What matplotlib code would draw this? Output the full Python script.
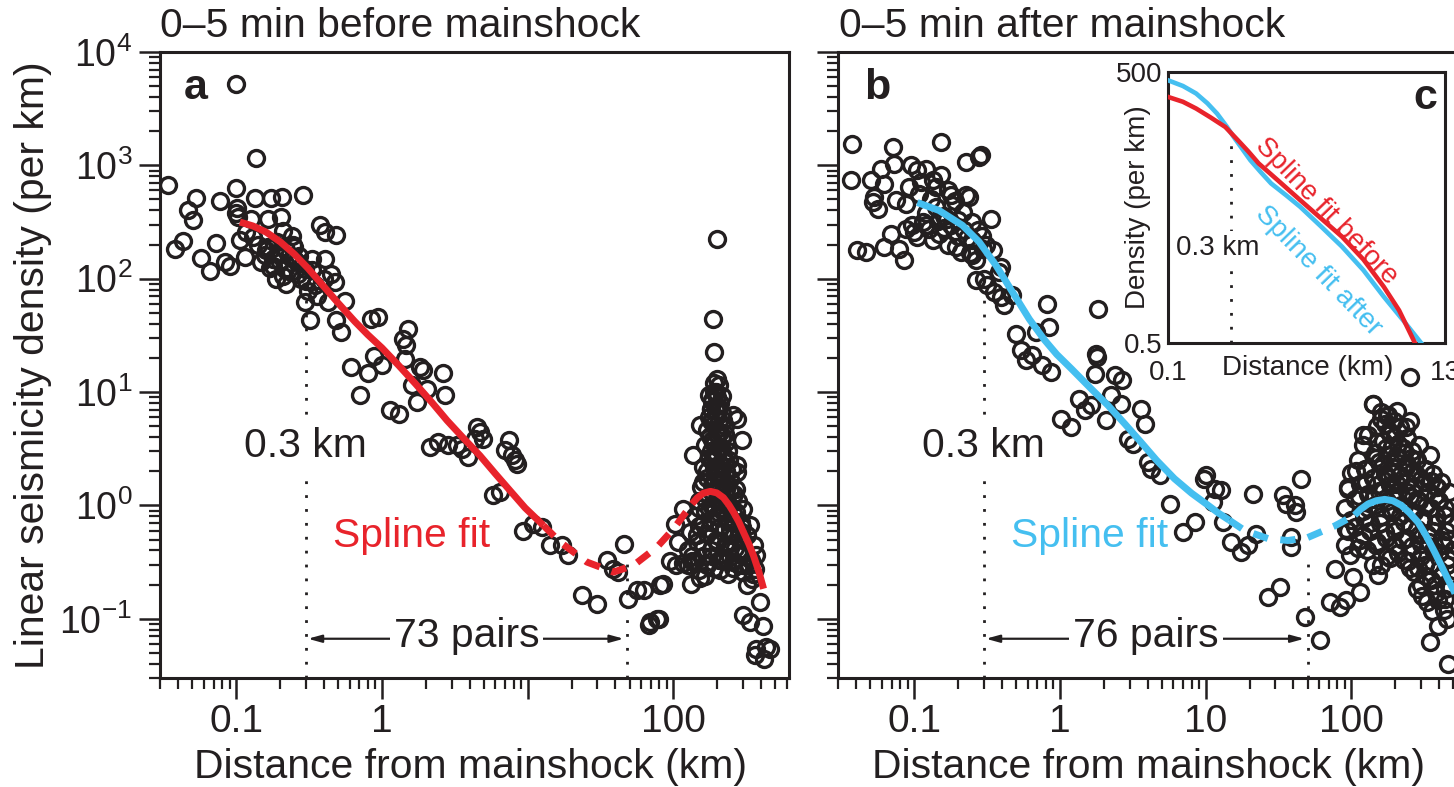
import numpy as np
import matplotlib
matplotlib.use("Agg")
import matplotlib.pyplot as plt
from matplotlib.ticker import FixedLocator, FixedFormatter, LogLocator, NullFormatter, NullLocator

plt.rcParams["font.family"] = ["Liberation Sans", "DejaVu Sans"]
plt.rcParams["mathtext.fontset"] = "custom"
plt.rcParams["mathtext.rm"] = "Liberation Sans"
plt.rcParams["mathtext.default"] = "regular"

INK = "#231f20"
RED = "#e8232b"
BLUE = "#45bff0"

# ---------------- data: pair distances (km) and linear density (per km) -------------
before_dist = [
    0.099, 0.136, 0.034, 0.0532, 0.0467, 0.0505, 0.077, 0.099, 0.101, 0.099, 0.103,
    0.134, 0.174, 0.206, 0.288, 0.0379, 0.0431, 0.0575, 0.0657, 0.073, 0.0833, 0.09,
    0.114, 0.106, 0.117, 0.127, 0.165, 0.204, 0.21, 0.374, 0.405, 0.486, 0.245, 0.141,
    0.157, 0.179, 0.194, 0.215, 0.239, 0.265, 0.295, 0.188, 0.221, 0.165, 0.149, 0.13,
    0.251, 0.405, 0.45, 0.475, 0.346, 0.295, 0.319, 0.427, 0.556, 0.486, 0.526, 0.845,
    0.94, 1.51, 1.4, 1.47, 0.2, 0.23, 0.26, 0.28, 0.17, 0.33, 0.36, 0.4, 0.31,
    0.16, 0.19, 0.22, 0.25, 0.18, 0.21, 0.27, 0.3, 0.33, 0.24,
    1.0, 1.44, 1.83, 1.92, 2.64, 1.6, 2.03, 2.71, 1.73, 1.14, 1.30, 0.614, 0.803,
    0.708, 0.883, 4.48, 4.71, 4.96, 4.36, 2.14, 2.44, 2.86, 3.26, 3.53, 3.92, 7.38,
    7.0, 7.8, 8.2, 8.4, 5.82, 6.47, 9.33, 10.9, 12.5, 14.3, 17.1, 19.0, 23.5, 29.8,
    34.9, 38.7, 41.9, 45.4, 49.1, 56.1, 62.3, 67.4, 77, 81,
    199, 188, 190, 199, 195, 185, 180, 258, 272, 295, 272, 272, 270, 302, 295, 137,
    152, 117, 103, 108, 94, 104, 116, 125, 134, 85, 132, 152, 165, 69, 79, 394, 302,
    337, 408, 370, 430, 460, 364, 420, 337, 355, 370, 364, 347, 318, 245, 233, 222, 258,
    190, 200, 185, 210, 180, 195, 215, 175, 205, 190, 225, 170, 200, 215, 185, 230,
    165, 205, 195, 220, 175, 240, 210, 160, 190, 230, 200, 170, 245, 215, 185, 155,
    230, 200, 260, 175, 150, 215, 240, 190, 165, 270, 205, 140, 230, 180, 255, 150,
    210, 285, 130, 170, 240, 195, 300, 145, 225, 265, 125, 180, 310, 160, 245, 205,
    280, 140, 330, 190, 300, 350, 235,
    175, 205, 190, 215, 200, 180, 220, 195, 210, 178, 225, 190, 212, 180, 235, 200,
    185, 225, 170, 205, 250, 190, 230, 160, 210, 185, 245, 165, 200, 230, 275, 180,
    215, 255, 150, 195, 235, 160, 290, 175, 220, 260, 145, 200, 320, 240, 160, 275,
    185, 215, 135, 300, 255, 170, 210, 340, 150,
]
before_density = [
    5200, 1160, 667, 515, 402, 328, 485, 632, 420, 378, 350,
    515, 515, 526, 552, 184, 214, 153, 116, 207, 141, 129,
    156, 218, 258, 339, 339, 351, 262, 296, 258, 242, 197, 197,
    161, 150, 167, 123, 115, 111, 123, 100, 90.6, 190, 141, 233,
    190, 150, 111, 93.5, 87.5, 62, 43, 62, 64, 43, 33.9, 44.5,
    46, 36, 29.5, 25.8, 140, 160, 140, 100, 125, 120, 70, 100, 78,
    180, 210, 180, 150, 130, 105, 160, 95, 150, 240,
    17.2, 19.7, 16.6, 15.5, 14.8, 11.5, 10.7, 9.35, 8.16, 6.89, 6.44, 16.5, 14.6,
    9.35, 20.6, 4.91, 4.43, 3.88, 3.88, 3.27, 3.62, 3.39, 3.39, 3.17, 2.67, 3.75,
    3.06, 2.76, 2.49, 2.33, 1.23, 1.31, 0.60, 0.69, 0.644, 0.443, 0.443, 0.362, 0.161, 0.136,
    0.327, 0.276, 0.258, 0.459, 0.15, 0.178, 0.178, 0.0873, 0.1, 0.197,
    226, 44.4, 22.6, 13.1, 10, 8.45, 7.13, 6.23, 5.82, 3.75, 2.25, 1.97, 1.4, 0.935, 0.644, 2.76,
    5.08, 0.935, 0.69, 0.474, 0.32, 0.3, 0.31, 0.3, 0.32, 0.204, 0.204, 0.227, 0.24, 0.093, 0.1, 0.14, 0.107,
    0.093, 0.087, 0.054, 0.056, 0.054, 0.048, 0.044, 0.667, 0.443, 0.362, 0.276, 0.225, 0.197, 0.625, 0.443, 0.34, 0.314,
    10, 9, 8.4, 8, 7.1, 6.8, 6.5, 6, 5.6, 5.2, 5, 4.6, 4.3, 4, 3.8, 3.6,
    3.4, 3.2, 2.9, 2.8, 2.6, 2.5, 2.3, 2.2, 2.1, 2.0, 1.85, 1.75, 1.7, 1.6, 1.5, 1.45,
    1.4, 1.3, 1.25, 1.2, 1.1, 1.1, 1.0, 0.98, 0.9, 0.88, 0.85, 0.8, 0.78, 0.72, 0.7, 0.66,
    0.64, 0.6, 0.58, 0.56, 0.55, 0.5, 0.5, 0.48, 0.45, 0.42, 0.4, 0.4, 0.38, 0.36, 0.35, 0.33,
    0.3, 0.32, 0.3, 0.28, 0.26, 0.25, 0.25,
    9.5, 11.5, 12, 9.2, 7.5, 5.5, 5.7, 4.7, 4.4, 4.1, 4.3, 3.5, 3.3, 3.0, 3.0, 2.7,
    2.45, 2.4, 2.0, 1.95, 2.1, 1.65, 1.55, 1.6, 1.4, 1.3, 1.35, 1.15, 1.15, 1.2, 1.1, 1.0,
    0.95, 0.85, 0.95, 0.8, 0.72, 0.7, 0.72, 0.62, 0.58, 0.55, 0.55, 0.47, 0.55, 0.42, 0.42, 0.38,
    0.36, 0.33, 0.36, 0.3, 0.28, 0.3, 0.27, 0.33, 0.27,
]

after_dist = [
    0.0377, 0.071, 0.152, 0.226, 0.287, 0.28, 0.0368, 0.059, 0.073, 0.0504, 0.0622,
    0.053, 0.052, 0.056, 0.0748, 0.095, 0.105, 0.12, 0.0924, 0.111, 0.134, 0.152,
    0.141, 0.0877, 0.108, 0.178, 0.226, 0.238, 0.183, 0.215, 0.251, 0.272, 0.336,
    0.097, 0.114, 0.127, 0.148, 0.105, 0.0877, 0.169, 0.0692, 0.0622, 0.0789, 0.0854,
    0.0408, 0.0466, 0.193, 0.208, 0.251, 0.265, 0.295, 0.347, 0.265, 0.302, 0.318,
    0.355, 0.392, 0.414, 0.383, 0.472, 0.392, 0.499, 0.539, 0.583, 0.647, 0.757,
    0.866, 0.683, 0.82, 0.843, 0.1, 0.12, 0.135, 0.16, 0.145, 0.2, 0.17, 0.23,
    0.12, 0.14, 0.16, 0.18, 0.2, 0.22, 0.25, 0.13, 0.17, 0.19, 0.29, 0.31, 0.24,
    1.82, 1.78, 1.8, 1.73, 2.38, 2.66, 1.36, 1.64, 1.48, 2.25, 2.64, 3.62, 2.08, 3.81,
    1.02, 1.19, 2.93, 3.17, 4.02, 4.24, 4.83, 5.66, 6.99, 8.4, 9.8, 10.1, 11.5, 12.8,
    11.2, 13.2, 15, 17.5, 19.5, 22.2, 21.1, 26.7, 32.1, 33.9, 35.7, 40.7, 45.3, 41.9,
    38.7, 38.7, 47.7,
    251, 60.5, 76.7, 102.6, 114, 71, 83, 92.3, 92.3, 90, 97, 94.6, 123, 120, 141, 152,
    178, 238, 318, 383, 393, 436, 460, 436, 282, 305, 357, 393, 344, 460,
    140, 175, 160, 195, 150, 215, 180, 130, 200, 240, 165, 120, 190, 225, 260, 145,
    175, 210, 110, 280, 155, 240, 190, 125, 320, 265, 100, 170, 215, 140, 300, 350,
    240, 115, 185, 95, 270, 380, 155, 210, 330, 130, 250, 105, 175, 290, 400, 145,
    220, 90, 350, 120, 190, 260, 430, 160, 310, 100, 230, 135, 380, 200, 280, 95,
    170, 330, 120, 240, 420, 150, 300, 200, 110, 360, 260, 175, 460, 230, 320, 140,
    400, 270, 350, 300, 250, 380, 440, 330,
    108, 126, 147, 172, 201, 235, 275, 321, 375, 440,
    112, 130, 150, 178, 205, 240, 280, 325, 380, 445,
    105, 122, 140, 165, 195, 228, 268, 310, 365, 430,
    115, 135, 158, 185, 215, 250, 290, 340, 400, 450,
    128, 148, 172, 198, 225, 262, 300, 345, 410, 470,
    160, 185, 210, 245, 285, 325, 375, 430, 395, 455,
    165, 190, 150, 210, 230, 255, 185, 170, 205, 160,
    250, 290, 345, 360, 410, 470, 480, 470, 490, 500,
]
after_density = [
    1556, 1453, 1610, 1072, 1227, 1180, 738, 937, 1037, 738, 691,
    526, 475, 415, 492, 1000, 905, 937, 645, 714, 738, 818,
    645, 460, 564, 545, 545, 526, 444, 388, 316, 267, 339,
    296, 316, 277, 250, 233, 277, 339, 250, 190, 184, 145,
    178, 172, 190, 172, 161, 145, 184, 178, 96.8, 100, 87.5,
    76.3, 69, 58.2, 115, 71.3, 127, 32.8, 23.3, 19.1, 21.1, 17.2,
    15.0, 33.9, 60.3, 37.5, 260, 300, 220, 280, 320, 240, 200, 230,
    380, 430, 360, 300, 330, 270, 220, 500, 600, 480, 240, 200, 170,
    54.5, 21.8, 20.4, 14.5, 14.0, 12.7, 8.75, 7.63, 6.89, 9.35, 7.9, 7.13, 5.63, 5.26,
    5.82, 4.91, 3.88, 3.5, 2.41, 2.11, 1.84, 1.03, 0.58, 0.713, 1.72, 1.84, 1.4, 1.36,
    1.07, 0.713, 0.474, 0.387, 0.443, 0.562, 1.27, 0.155, 0.19, 1.23, 1.03, 1.0, 1.72, 0.873,
    0.525, 0.428, 0.103,
    13.6, 0.0644, 0.276, 0.233, 0.172, 0.14, 0.127, 0.145, 0.62, 0.443, 0.362, 1.4, 2.11, 4.15, 7.9, 0.241,
    6.23, 4.91, 2.11, 1.45, 1.11, 0.816, 0.339, 0.184, 0.184, 0.16, 0.118, 0.087, 0.062, 0.04,
    7.9, 6.2, 5.8, 5.5, 5.0, 4.9, 4.5, 4.2, 4.0, 3.9, 3.7, 3.4, 3.3, 3.2, 3.0, 2.9,
    2.8, 2.6, 2.5, 2.5, 2.4, 2.3, 2.2, 2.1, 2.1, 2.0, 1.95, 1.9, 1.85, 1.75, 1.7, 1.65,
    1.6, 1.55, 1.5, 1.45, 1.45, 1.45, 1.35, 1.3, 1.3, 1.25, 1.2, 1.15, 1.1, 1.1, 1.1, 1.0,
    1.0, 0.95, 0.95, 0.9, 0.88, 0.85, 0.82, 0.8, 0.78, 0.75, 0.72, 0.7, 0.7, 0.66, 0.62, 0.6,
    0.58, 0.56, 0.55, 0.52, 0.5, 0.48, 0.46, 0.44, 0.42, 0.4, 0.38, 0.36, 0.34, 0.33, 0.3, 0.3,
    0.27, 0.26, 0.22, 0.2, 0.28, 0.17, 0.15, 0.14,
    2.0, 1.6, 2.6, 3.2, 2.7, 2.2, 1.9, 1.6, 1.2, 0.95,
    1.2, 0.95, 1.5, 1.75, 1.55, 1.3, 1.15, 0.98, 0.8, 0.6,
    0.65, 0.78, 1.15, 1.35, 1.2, 0.98, 0.88, 0.72, 0.6, 0.45,
    0.5, 0.6, 0.7, 0.92, 0.8, 0.66, 0.55, 0.48, 0.38, 0.3,
    0.4, 0.45, 0.52, 0.6, 0.5, 0.44, 0.36, 0.3, 0.24, 0.2,
    0.3, 0.34, 0.38, 0.32, 0.28, 0.24, 0.2, 0.12, 0.145, 0.1,
    2.3, 1.95, 3.6, 3.5, 2.9, 2.6, 4.3, 5.2, 6.8, 6.6,
    5.6, 3.4, 2.8, 1.9, 1.6, 1.3, 0.7, 0.5, 0.25, 0.4,
]

# spline fits: near-field (solid), poorly constrained gap (dashed), far-field (solid)
fit_before_near_x = [0.106, 0.13, 0.16, 0.2, 0.25, 0.31, 0.4, 0.5, 0.65, 0.8, 1.0, 1.3, 1.7,
                     2.2, 2.8, 3.6, 4.7, 6.0, 7.6, 9.6, 12.8]
fit_before_near_y = [316, 292, 258, 212, 165, 124, 85, 61, 42, 32, 24.5, 17.2, 11.8,
                     8.1, 5.6, 3.95, 2.75, 1.9, 1.34, 0.95, 0.666]
fit_before_gap_x = [12.8, 16.7, 25.5, 38.7, 53, 77, 100, 134]
fit_before_gap_y = [0.666, 0.474, 0.316, 0.258, 0.295, 0.428, 0.62, 1.03]
fit_before_far_x = [134, 145, 160, 179, 198, 220, 240, 258, 280, 302, 328, 354, 385, 415]
fit_before_far_y = [1.03, 1.16, 1.28, 1.33, 1.29, 1.17, 1.01, 0.87, 0.72, 0.58, 0.46, 0.36, 0.26, 0.184]

fit_after_near_x = [0.105, 0.148, 0.214, 0.279, 0.364, 0.473, 0.616, 0.78, 0.95, 1.2, 1.6, 2.14,
                    2.8, 3.6, 4.6, 6.1, 8.0, 10.4, 12.3, 14.5]
fit_after_near_y = [470, 400, 296, 211, 131, 76, 44, 29, 21.5, 16, 11, 7.6,
                    5.2, 3.6, 2.5, 1.72, 1.28, 1.0, 0.85, 0.74]
fit_after_gap_x = [14.5, 18.5, 26.7, 36.6, 50, 77, 105]
fit_after_gap_y = [0.74, 0.6, 0.51, 0.49, 0.52, 0.66, 0.82]
fit_after_far_x = [105, 115, 130, 148, 169, 192, 220, 250, 286, 325, 371, 410, 457, 500, 560]
fit_after_far_y = [0.82, 0.92, 1.03, 1.1, 1.13, 1.1, 1.0, 0.86, 0.71, 0.54, 0.39, 0.3, 0.225, 0.18, 0.13]

# comparison of the two near-field fits, 0.1-13 km
cmp_before_x = [0.1, 0.13, 0.164, 0.21, 0.274, 0.341, 0.41, 0.492, 0.7, 1.02, 1.5, 2.13,
                3.1, 4.43, 5.8, 7.67]
cmp_before_y = [265, 234, 197, 158, 123, 88, 66, 48.6, 31, 19.1, 11.7, 7.5,
                4.2, 2.1, 1.15, 0.5]
cmp_after_x = [0.1, 0.13, 0.164, 0.2, 0.237, 0.28, 0.317, 0.37, 0.425, 0.51, 0.612, 0.8,
               1.02, 1.5, 2.13, 3.1, 4.43, 6.2, 8.55]
cmp_after_y = [405, 350, 289, 225, 173, 125, 95.7, 70, 52.8, 39, 29.2, 21.5,
               16.1, 9.5, 5.82, 3.2, 1.63, 0.9, 0.5]

x_ticks = [0.1, 1, 10, 100]
x_labels_a = ["0.1", "1", "", "100"]
x_labels_b = ["0.1", "1", "10", "100"]
y_ticks = [0.1, 1, 10, 100, 1000, 10000]
y_labels = [r"$10^{-1}$", r"$10^{0}$", r"$10^{1}$", r"$10^{2}$", r"$10^{3}$", r"$10^{4}$"]

# ------------------------------------------------------------------------------------
W, H = 1454, 787
BIG = 29.4
fig = plt.figure(figsize=(W / 100, H / 100), dpi=100)
fig.patch.set_facecolor("white")


def box(l, t, r, b):
    return [l / W, 1 - b / H, (r - l) / W, (b - t) / H]


ax_a = fig.add_axes(box(160, 52, 789, 678))
ax_b = fig.add_axes(box(838, 52, 1467, 678))
ax_c = fig.add_axes(box(1168, 72, 1445, 343))
ax_c.set_zorder(5)


def style_main(ax, xlabels, ylabels):
    ax.set_xscale("log")
    ax.set_yscale("log")
    ax.set_xlim(0.03, 620)
    ax.set_ylim(0.03, 1e4)
    for s in ax.spines.values():
        s.set_linewidth(2.2)
        s.set_color(INK)
    ax.xaxis.set_major_locator(FixedLocator(x_ticks))
    ax.xaxis.set_major_formatter(FixedFormatter(xlabels))
    ax.yaxis.set_major_locator(FixedLocator(y_ticks))
    ax.yaxis.set_major_formatter(FixedFormatter(ylabels))
    ax.xaxis.set_minor_locator(LogLocator(base=10, subs=np.arange(2, 10), numticks=20))
    ax.yaxis.set_minor_locator(LogLocator(base=10, subs=np.arange(2, 10), numticks=20))
    ax.xaxis.set_minor_formatter(NullFormatter())
    ax.yaxis.set_minor_formatter(NullFormatter())
    ax.tick_params(which="major", direction="out", length=15, width=1.8, color=INK,
                   labelcolor=INK, top=False, right=False)
    ax.tick_params(which="minor", direction="out", length=8, width=1.6, color=INK,
                   top=False, right=False)
    ax.tick_params(axis="x", which="major", pad=4, labelsize=28)
    ax.tick_params(axis="y", which="major", pad=5, labelsize=27)
    ax.set_xlabel("Distance from mainshock (km)", fontsize=BIG, color=INK)
    ax.xaxis.label.set_va("center")
    ax.xaxis.set_label_coords(0.494, -0.142)


def draw_panel(ax, xs, ys, near, gap, far, color, pairs_text, right_edge):
    ax.plot(xs, ys, "o", mfc="none", mec=INK, ms=11.5, mew=2.4, zorder=3)
    ax.plot(near[0], near[1], "-", color=color, lw=5, solid_capstyle="butt",
            solid_joinstyle="round", zorder=4)
    ax.plot(gap[0], gap[1], color=color, lw=5, ls=(0, (2.2, 1.8)), zorder=4)
    ax.plot(far[0], far[1], "-", color=color, lw=5, solid_capstyle="butt",
            solid_joinstyle="round", zorder=4)
    dot = (0, (1, 4))
    ax.plot([0.3, 0.3], [0.03, 70], color=INK, lw=2, ls=dot, zorder=2)
    ax.plot([right_edge, right_edge], [0.03, 0.35], color=INK, lw=2, ls=dot, zorder=2)
    ax.text(0.3, 2.65, "0.3 km", ha="center", va="baseline", fontsize=BIG, color=INK,
            zorder=5, bbox=dict(fc="white", ec="none", pad=4))
    ax.text(0.46, 0.426, "Spline fit", ha="left", va="baseline", fontsize=BIG, color=color, zorder=5)
    ax.annotate("", xy=(0.31, 0.0666), xytext=(right_edge * 0.95, 0.0666),
                arrowprops=dict(arrowstyle="<|-|>,head_length=0.8,head_width=0.22",
                                color=INK, lw=1.6, shrinkA=0, shrinkB=0), zorder=2)
    ax.text(np.sqrt(0.3 * right_edge), 0.0558, pairs_text, ha="center", va="baseline",
            fontsize=BIG, color=INK, zorder=5, bbox=dict(fc="white", ec="none", pad=3))


style_main(ax_a, x_labels_a, y_labels)
style_main(ax_b, x_labels_b, [""] * len(y_ticks))
ax_a.set_ylabel("Linear seismicity density (per km)", fontsize=BIG, color=INK)
ax_a.yaxis.label.set_va("center")
ax_a.yaxis.set_label_coords(-0.202, 0.5)

draw_panel(ax_a, before_dist, before_density,
           (fit_before_near_x, fit_before_near_y), (fit_before_gap_x, fit_before_gap_y),
           (fit_before_far_x, fit_before_far_y), RED, "73 pairs", 48)
draw_panel(ax_b, after_dist, after_density,
           (fit_after_near_x, fit_after_near_y), (fit_after_gap_x, fit_after_gap_y),
           (fit_after_far_x, fit_after_far_y), BLUE, "76 pairs", 50)

ax_a.text(0.056, 0.9425, "a", transform=ax_a.transAxes, fontsize=31, fontweight="bold",
          ha="center", va="center", color=INK)
ax_b.text(0.062, 0.9425, "b", transform=ax_b.transAxes, fontsize=31, fontweight="bold",
          ha="center", va="center", color=INK)

fig.text(160 / W, 1 - 37 / H, "0–5 min before mainshock", fontsize=BIG, color=INK,
         ha="left", va="baseline")
fig.text(839 / W, 1 - 37 / H, "0–5 min after mainshock", fontsize=BIG, color=INK,
         ha="left", va="baseline")

# ---------------- inset c ----------------
ax_c.set_facecolor("white")
ax_c.set_xscale("log")
ax_c.set_yscale("log")
ax_c.set_xlim(0.1, 13)
ax_c.set_ylim(0.5, 500)
for s in ax_c.spines.values():
    s.set_linewidth(2.2)
    s.set_color(INK)
ax_c.xaxis.set_major_locator(FixedLocator([0.1, 13]))
ax_c.xaxis.set_major_formatter(FixedFormatter(["0.1", "13"]))
ax_c.yaxis.set_major_locator(FixedLocator([0.5, 500]))
ax_c.yaxis.set_major_formatter(FixedFormatter(["0.5", "500"]))
ax_c.xaxis.set_minor_locator(NullLocator())
ax_c.yaxis.set_minor_locator(NullLocator())
ax_c.tick_params(axis="x", length=0, labelsize=20, pad=12, labelcolor=INK)
ax_c.tick_params(axis="y", length=0, labelsize=20, pad=4, labelcolor=INK)
ax_c.set_xlabel("Distance (km)", fontsize=20, color=INK)
ax_c.xaxis.label.set_va("center")
ax_c.xaxis.set_label_coords(0.506, -0.091)
ax_c.set_ylabel("Density (per km)", fontsize=20, color=INK)
ax_c.yaxis.label.set_va("center")
ax_c.yaxis.set_label_coords(-0.11, 0.5)
ax_c.plot([0.3, 0.3], [0.5, 113], color=INK, lw=2, ls=(0, (1, 4)), zorder=1)
ax_c.text(0.238, 5.64, "0.3 km", ha="center", va="center", fontsize=20, color=INK,
          zorder=3, bbox=dict(fc="white", ec="none", pad=3))
ax_c.plot(cmp_after_x, cmp_after_y, color=BLUE, lw=3.3, solid_joinstyle="round", zorder=4)
ax_c.plot(cmp_before_x, cmp_before_y, color=RED, lw=3.3, solid_joinstyle="round", zorder=4)
ax_c.text(1.62, 14.5, "Spline fit before", color=RED, fontsize=20, rotation=-46,
          ha="center", va="center", rotation_mode="anchor", zorder=5)
ax_c.text(1.40, 3.1, "Spline fit after", color=BLUE, fontsize=20, rotation=-46,
          ha="center", va="center", rotation_mode="anchor", zorder=5)
ax_c.text(0.928, 0.903, "c", transform=ax_c.transAxes, fontsize=31, fontweight="bold",
          ha="center", va="center", color=INK)

fig.savefig("out.png", dpi=100, facecolor="white")
